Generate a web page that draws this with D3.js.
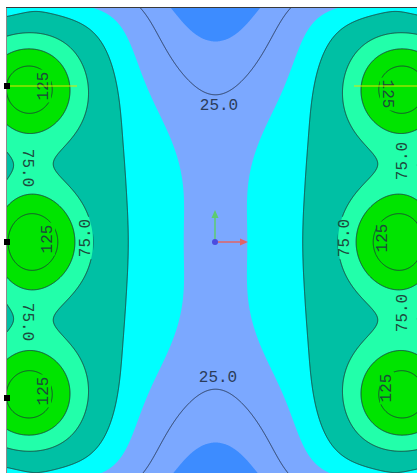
<!DOCTYPE html>
<html>
<head>
<meta charset="utf-8">
<script src="https://cdnjs.cloudflare.com/ajax/libs/d3/7.8.5/d3.min.js"></script>
<style>
  html, body { margin: 0; padding: 0; background: #fff; overflow: hidden; }
</style>
</head>
<body>
<div id="chart"></div>
<script>
// contour levels and colours
const fillLevels = [12.5, 37.5, 50, 75, 100];
const fillColors = ["#7ba8ff", "#00ffff", "#00c0a4", "#22ffaa", "#00e400"];
const baseColor = "#3d8cff";
const lineLevels = [25, 50, 75, 100, 125];

// conductor rows / columns
const colX = [30, 401];
const rowY = [88, 242, 396];

// contour points (top-left quarter, the field is symmetric)
const line125 = [[32, 63], [45, 72], [50, 88], [45, 105], [32, 115], [18, 67], [18, 110], [8, 77], [8, 100],
                 [33, 212], [48, 220], [55, 242], [18, 214], [8, 224]];
const line100 = [[7, 52], [20, 49], [32, 48], [50, 53], [62, 66], [68, 88], [62, 112], [50, 126], [32, 135], [20, 133], [7, 129],
                 [7, 210], [20, 197], [33, 193], [50, 197], [63, 210], [71, 228], [73, 242]];
const line75 = [[7, 38], [20, 34], [37, 33], [55, 37], [67, 43], [78, 55], [84, 70], [87, 87], [86, 105], [82, 125],
                [76, 145], [72, 160], [74, 175], [80, 195], [87, 212], [91, 228], [92, 242],
                [7, 142], [12, 150], [16, 165], [12, 180], [7, 187]];
const line50 = [[7, 20], [20, 15], [43, 14], [67, 20], [87, 33], [103, 53], [113, 77], [117, 100], [117, 133],
                [117, 160], [122, 193], [126, 227], [127, 242]];
const lineCyan = [[107, 8], [130, 20], [140, 38], [153, 90], [167, 127], [184, 160], [195, 193], [200, 227], [201, 242]];
const line25 = [[127, 8], [140, 21], [160, 43], [180, 67], [198, 90], [215, 98]];
const lineDark = [[158, 8], [167, 20], [183, 32], [200, 37], [215, 39]];
const spotValues = [[30, 90, 140], [30, 242, 142], [215, 242, 31], [208, 242, 34], [215, 170, 29], [215, 8, 6], [7, 8, 45],
                    [43, 8, 47], [85, 8, 42], [35, 165, 78], [7, 165, 73]];

const labels = [
  { t: "25.0", x: 219, y: 106, r: 0 },
  { t: "25.0", x: 218, y: 378, r: 0 },
  { t: "125", x: 44, y: 86, r: -90 },
  { t: "125", x: 48, y: 239, r: -90 },
  { t: "125", x: 44, y: 391, r: -90 },
  { t: "125", x: 387, y: 94, r: 90 },
  { t: "125", x: 383, y: 238, r: -90 },
  { t: "125", x: 387, y: 388, r: -90 },
  { t: "75.0", x: 86, y: 238, r: -90 },
  { t: "75.0", x: 27, y: 168, r: 90 },
  { t: "75.0", x: 27, y: 322, r: 90 },
  { t: "75.0", x: 345, y: 238, r: -90 },
  { t: "75.0", x: 403, y: 161, r: -90 },
  { t: "75.0", x: 403, y: 313, r: -90 }
];

const W = 417, H = 473;
const plot = { x: 7, y: 8, w: 410, h: 465 };

// ---- field: gaussians round the conductors, their images past the top/bottom edge,
// and an even polynomial; fitted (least squares) to the points read above
const widths = [20, 40, 80, 160];
const imgY = [-72, 556];
function gauss(x, y, cx, cy, s) { return Math.exp(-((x - cx) ** 2 + (y - cy) ** 2) / (2 * s * s)); }
function basis(x, y) {
  const b = [];
  widths.forEach(s => {
    let outer = 0, mid = 0;
    colX.forEach(cx => rowY.forEach((cy, j) => {
      const g = gauss(x, y, cx, cy, s);
      if (j === 1) mid += g; else outer += g;
    }));
    b.push(outer, mid);
  });
  [25, 50].forEach(s => {
    let t = 0;
    colX.forEach(cx => imgY.forEach(cy => { t += gauss(x, y, cx, cy, s); }));
    b.push(t);
  });
  b.push(gauss(x, y, 215.5, -20, 60) + gauss(x, y, 215.5, 504, 60));
  const u = ((x - 215.5) / 208) ** 2, v = ((y - 242) / 234) ** 2;
  b.push(1, u, v, u * u, u * v, v * v, u * u * u, u * u * v, u * v * v, v * v * v);
  return b;
}

function solve(A, b) {
  const n = b.length;
  const M = A.map((r, i) => r.concat([b[i]]));
  for (let c = 0; c < n; c++) {
    let p = c;
    for (let r = c + 1; r < n; r++) if (Math.abs(M[r][c]) > Math.abs(M[p][c])) p = r;
    [M[c], M[p]] = [M[p], M[c]];
    for (let r = c + 1; r < n; r++) {
      const f = M[r][c] / M[c][c];
      for (let k = c; k <= n; k++) M[r][k] -= f * M[c][k];
    }
  }
  const x = new Array(n).fill(0);
  for (let r = n - 1; r >= 0; r--) {
    let s = M[r][n];
    for (let k = r + 1; k < n; k++) s -= M[r][k] * x[k];
    x[r] = s / M[r][r];
  }
  return x;
}

const samples = [];
[[125, line125, 1], [100, line100, 1], [75, line75, 1], [50, line50, 2], [37.5, lineCyan, 4], [25, line25, 3], [12.5, lineDark, 2]]
  .forEach(([lv, pts, w]) => pts.forEach(p => samples.push([p[0], p[1], lv, w])));
spotValues.forEach(p => samples.push([p[0], p[1], p[2], 3]));

const rows = samples.map(s => basis(s[0], s[1]));
const K = rows[0].length;
const colScale = d3.range(K).map(k => Math.sqrt(d3.sum(rows, r => r[k] * r[k])) || 1);
const NM = d3.range(K).map(() => new Array(K).fill(0));
const rhs = new Array(K).fill(0);
rows.forEach((r, i) => {
  const w = samples[i][3];
  for (let a = 0; a < K; a++) {
    const ra = r[a] / colScale[a];
    rhs[a] += w * ra * samples[i][2];
    for (let b = 0; b < K; b++) NM[a][b] += w * ra * r[b] / colScale[b];
  }
});
for (let a = 0; a < K; a++) NM[a][a] += 1e-6;
const coef = solve(NM, rhs).map((c, k) => c / colScale[k]);

function field(x, y) {
  const b = basis(x, y);
  let s = 0;
  for (let k = 0; k < K; k++) s += coef[k] * b[k];
  return s;
}

// grid a little larger than the plot so contour borders fall outside the clip
const gx0 = 2, gy0 = 3, nx = 430, ny = 478;
const values = new Float64Array(nx * ny);
for (let j = 0; j < ny; j++)
  for (let i = 0; i < nx; i++)
    values[j * nx + i] = field(gx0 + i + 0.5, gy0 + j + 0.5);

const path = d3.geoPath(d3.geoIdentity().translate([gx0, gy0]));

const svg = d3.select("#chart").append("svg")
  .attr("width", W).attr("height", H)
  .style("display", "block");

const defs = svg.append("defs");
defs.append("clipPath").attr("id", "plotClip")
  .append("rect").attr("x", plot.x).attr("y", plot.y).attr("width", plot.w).attr("height", plot.h);

// lines break behind the labels
const mask = defs.append("mask").attr("id", "labelMask").attr("maskUnits", "userSpaceOnUse")
  .attr("x", 0).attr("y", 0).attr("width", W).attr("height", H);
mask.append("rect").attr("width", W).attr("height", H).attr("fill", "#fff");
mask.selectAll("rect.hole").data(labels).enter().append("rect")
  .attr("class", "hole")
  .attr("transform", d => `translate(${d.x},${d.y}) rotate(${d.r})`)
  .attr("x", d => -d.t.length * 4.8 - 2).attr("y", -7)
  .attr("width", d => d.t.length * 9.6 + 4).attr("height", 14)
  .attr("fill", "#000");

const g = svg.append("g").attr("clip-path", "url(#plotClip)");
g.append("rect").attr("x", plot.x).attr("y", plot.y).attr("width", plot.w).attr("height", plot.h)
  .attr("fill", baseColor);

const bands = d3.contours().size([nx, ny]).thresholds(fillLevels)(values);
g.selectAll("path.band").data(bands).enter().append("path")
  .attr("class", "band")
  .attr("d", path)
  .attr("fill", (d, i) => fillColors[i]);

const isolines = d3.contours().size([nx, ny]).thresholds(lineLevels)(values);
g.append("g").attr("mask", "url(#labelMask)")
  .selectAll("path.iso").data(isolines).enter().append("path")
  .attr("class", "iso")
  .attr("d", path)
  .attr("fill", "none")
  .attr("stroke", d => d.value === 25 ? "#263450" : "#1c3c38")
  .attr("stroke-width", 0.9);

g.selectAll("text.lab").data(labels).enter().append("text")
  .attr("class", "lab")
  .attr("transform", d => `translate(${d.x},${d.y}) rotate(${d.r})`)
  .attr("text-anchor", "middle")
  .attr("dominant-baseline", "central")
  .attr("font-family", "Liberation Mono, DejaVu Sans Mono, monospace")
  .attr("font-size", 16)
  .attr("fill", d => d.t === "25.0" ? "#2b3c5a" : "#1d4a3c")
  .text(d => d.t);

// frame
svg.append("line").attr("x1", 6).attr("x2", W).attr("y1", 7.5).attr("y2", 7.5)
  .attr("stroke", "#3a3a3a").attr("stroke-width", 1);
svg.append("line").attr("x1", 6.5).attr("x2", 6.5).attr("y1", 8).attr("y2", H)
  .attr("stroke", "#8a8a8a").attr("stroke-width", 1);

// probe line and nodes
const probeY = 86;
svg.append("line").attr("x1", 7).attr("x2", 77).attr("y1", probeY).attr("y2", probeY)
  .attr("stroke", "#e4e400").attr("stroke-width", 1);
svg.append("line").attr("x1", 354).attr("x2", W).attr("y1", probeY).attr("y2", probeY)
  .attr("stroke", "#e4e400").attr("stroke-width", 1);
svg.selectAll("rect.node").data([86, 242, 398]).enter().append("rect")
  .attr("class", "node")
  .attr("x", 4).attr("y", d => d - 3).attr("width", 6).attr("height", 6)
  .attr("fill", "#000");

// coordinate triad
const ox = 215, oy = 242;
svg.append("line").attr("x1", ox).attr("y1", oy).attr("x2", ox).attr("y2", oy - 25)
  .attr("stroke", "#5ccc70").attr("stroke-width", 1.5);
svg.append("path").attr("d", `M${ox - 3.5},${oy - 24}L${ox},${oy - 32}L${ox + 3.5},${oy - 24}Z`).attr("fill", "#5ccc70");
svg.append("line").attr("x1", ox).attr("y1", oy).attr("x2", ox + 26).attr("y2", oy)
  .attr("stroke", "#e06466").attr("stroke-width", 1.5);
svg.append("path").attr("d", `M${ox + 25},${oy - 3.5}L${ox + 33},${oy}L${ox + 25},${oy + 3.5}Z`).attr("fill", "#e06466");
svg.append("circle").attr("cx", ox).attr("cy", oy).attr("r", 3).attr("fill", "#4b4be0");
</script>
</body>
</html>
